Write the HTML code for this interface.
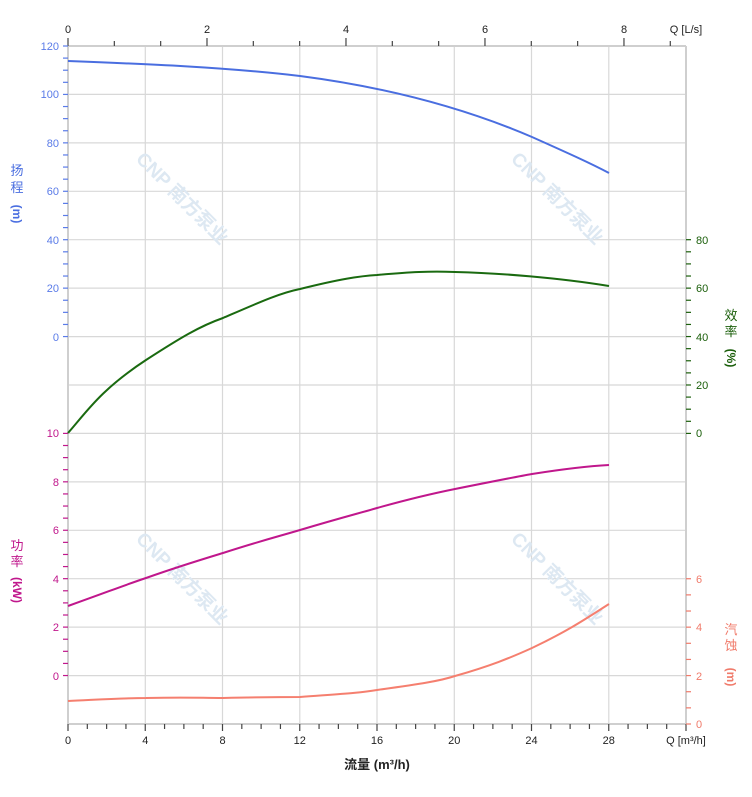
<!DOCTYPE html>
<html><head><meta charset="utf-8"><style>body{margin:0;background:#fff}svg{display:block;font-family:"Liberation Sans","Noto Sans CJK SC",sans-serif}</style></head><body>
<svg width="752" height="797" viewBox="0 0 752 797">
<g stroke="#d8d8d8" stroke-width="1.2">
<line x1="68" y1="94.4" x2="686" y2="94.4"/><line x1="68" y1="142.9" x2="686" y2="142.9"/><line x1="68" y1="191.3" x2="686" y2="191.3"/><line x1="68" y1="239.7" x2="686" y2="239.7"/><line x1="68" y1="288.1" x2="686" y2="288.1"/><line x1="68" y1="336.6" x2="686" y2="336.6"/><line x1="68" y1="385" x2="686" y2="385"/><line x1="68" y1="433.4" x2="686" y2="433.4"/><line x1="68" y1="481.9" x2="686" y2="481.9"/><line x1="68" y1="530.3" x2="686" y2="530.3"/><line x1="68" y1="578.7" x2="686" y2="578.7"/><line x1="68" y1="627.1" x2="686" y2="627.1"/><line x1="68" y1="675.6" x2="686" y2="675.6"/>
<line x1="145.3" y1="46" x2="145.3" y2="724"/><line x1="222.5" y1="46" x2="222.5" y2="724"/><line x1="299.8" y1="46" x2="299.8" y2="724"/><line x1="377" y1="46" x2="377" y2="724"/><line x1="454.3" y1="46" x2="454.3" y2="724"/><line x1="531.5" y1="46" x2="531.5" y2="724"/><line x1="608.8" y1="46" x2="608.8" y2="724"/>
</g>
<g stroke="#cfcfcf" stroke-width="2"><line x1="68" y1="46" x2="686" y2="46"/><line x1="686" y1="46" x2="686" y2="724"/><line x1="68" y1="46" x2="68" y2="724"/><line x1="68" y1="724" x2="686" y2="724"/></g>
<g fill="#dde8f2" font-size="19" font-weight="bold">
<text transform="translate(135,160) rotate(45)">CNP 南方泵业</text>
<text transform="translate(510,160) rotate(45)">CNP 南方泵业</text>
<text transform="translate(135,540) rotate(45)">CNP 南方泵业</text>
<text transform="translate(510,540) rotate(45)">CNP 南方泵业</text>
</g>
<g font-size="11" fill="#222" text-anchor="middle">
<text x="68" y="744">0</text><text x="145.3" y="744">4</text><text x="222.5" y="744">8</text><text x="299.8" y="744">12</text><text x="377" y="744">16</text><text x="454.3" y="744">20</text><text x="531.5" y="744">24</text><text x="608.8" y="744">28</text>
<text x="686" y="744">Q [m³/h]</text>
<text x="68" y="33">0</text><text x="207" y="33">2</text><text x="346" y="33">4</text><text x="485" y="33">6</text><text x="624" y="33">8</text>
<text x="686" y="33">Q [L/s]</text>
<text x="377" y="769" font-size="13" font-weight="bold">流量 (m³/h)</text>
</g>
<g font-size="11" fill="#5a7be8" text-anchor="end">
<text x="59" y="50">120</text><text x="59" y="98">100</text><text x="59" y="147">80</text><text x="59" y="195">60</text><text x="59" y="244">40</text><text x="59" y="292">20</text><text x="59" y="341">0</text>
</g>
<g font-size="11" fill="#c0178c" text-anchor="end">
<text x="59" y="437">10</text><text x="59" y="486">8</text><text x="59" y="534">6</text><text x="59" y="583">4</text><text x="59" y="631">2</text><text x="59" y="680">0</text>
</g>
<g font-size="11" fill="#1a5e0a"><text x="696" y="244">80</text><text x="696" y="292">60</text><text x="696" y="341">40</text><text x="696" y="389">20</text><text x="696" y="437">0</text></g>
<g font-size="11" fill="#f07a6a"><text x="696" y="583">6</text><text x="696" y="631">4</text><text x="696" y="680">2</text><text x="696" y="728">0</text></g>
<g font-size="13" text-anchor="middle">
<text x="17" y="175" fill="#4a6ee0">扬</text><text x="17" y="192" fill="#4a6ee0">程</text><text transform="translate(13,214) rotate(90)" fill="#4a6ee0" font-size="12" font-weight="bold">(m)</text>
<text x="17" y="550" fill="#c0178c">功</text><text x="17" y="566" fill="#c0178c">率</text><text transform="translate(13,590) rotate(90)" fill="#c0178c" font-size="12" font-weight="bold">(kW)</text>
<text x="731" y="320" fill="#1a5e0a">效</text><text x="731" y="336" fill="#1a5e0a">率</text><text transform="translate(727,358) rotate(90)" fill="#1a5e0a" font-size="12" font-weight="bold">(%)</text>
<text x="731" y="634" fill="#f07a6a">汽</text><text x="731" y="650" fill="#f07a6a">蚀</text><text transform="translate(727,677) rotate(90)" fill="#f07a6a" font-size="12" font-weight="bold">(m)</text>
</g>
<g fill="none" stroke-width="2">
<path stroke="#4a6ee0" d="M68,61 C146,64 223,67 300,76 C377,86 455,104 532,137 C570,154 590,163 609,173"/>
<path stroke="#1a6a10" d="M68,433 C85,414 100,390 146,360 C180,338 200,326 223,318 C260,302 280,293 300,289 C340,279 360,276 377,275 C410,272 430,271 455,272 C500,273 560,278 609,286"/>
<path stroke="#c0178c" d="M68,606 C110,591 125,585 146,578 C180,566 200,560 223,553 C260,541 280,536 300,530 C340,518 360,513 377,508 C420,496 440,492 455,489 C500,480 515,477 532,474 C570,468 590,466 609,465"/>
<path stroke="#f57f6f" d="M68,701 C110,699 125,698 146,698 C190,697 200,698 223,698 C270,697 285,697 300,697 C340,694 360,693 377,690 C420,684 440,681 455,676 C490,666 510,658 532,648 C570,630 590,616 609,604"/>
</g>
<script>
(function(){var ns="http://www.w3.org/2000/svg",s=document.querySelector("svg");
function L(x1,y1,x2,y2,c,w){var l=document.createElementNS(ns,"line");l.setAttribute("x1",x1);l.setAttribute("y1",y1);l.setAttribute("x2",x2);l.setAttribute("y2",y2);l.setAttribute("stroke",c);l.setAttribute("stroke-width",w||1.2);s.appendChild(l);}
for(var i=0;i<=32;i++){var x=68+i*19.3125;L(x,724,x,i%4==0?731:729,"#444");}
for(var i=0;i<=13;i++){var x=68+i*46.33;if(x<=687)L(x,46,x,i%3==0?38:41,"#444");}
for(var i=0;i<=24;i++){var y=46+i*12.107;if(y<=337.5)L(63,y,68,y,"#5a7be8");}
for(var i=0;i<=20;i++){var y=433.4+i*12.107;if(y<=676)L(63,y,68,y,"#c0178c");}
for(var i=0;i<=16;i++){var y=239.7+i*12.107;if(y<=434)L(686,y,691,y,"#1a5e0a");}
for(var i=0;i<=9;i++){var y=724-i*16.14;if(y>=578)L(686,y,691,y,"#f07a6a");}
})();
</script>
</svg>
</body></html>
